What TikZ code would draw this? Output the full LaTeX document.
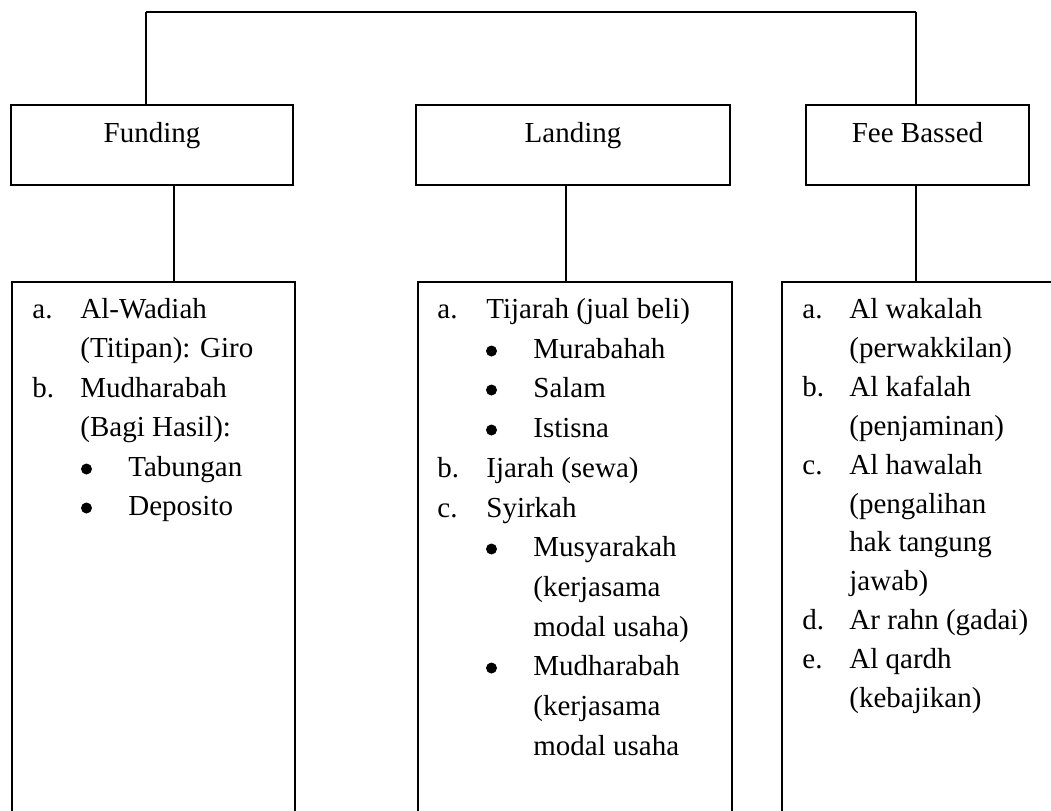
\documentclass[tikz,border=0pt]{standalone}
\usepackage{fontspec}
\setmainfont{Liberation Serif}
\tikzset{head/.style={draw, line width=1pt, inner sep=0pt, text height=18.5pt, text depth=21.5pt, minimum height=40pt},
 listbox/.style={draw, line width=1pt, anchor=north west, inner sep=0pt},
 item/.style={anchor=base west, inner sep=0pt},
 dot/.style={circle, fill, inner sep=0pt, minimum size=5.5pt},
 link/.style={line width=1pt},
 every node/.style={font=\fontsize{14.5pt}{17pt}\selectfont},
 }

\begin{document}
\begin{tikzpicture}[x=0.5pt, y=-0.5pt]
        \clip (0,0) rectangle (1051,810);
        % head boxes
        \node[head, minimum width=141pt] (fund) at (152,145) {Funding};
        \node[head, minimum width=157pt] (land) at (573,145) {Landing};
        \node[head, minimum width=111.5pt] (fee) at (917.5,145) {Fee Bassed};
        \coordinate (tl) at (146,12);
        \coordinate (tr) at (916,12);
        \draw[link] (tl) -- (tr);
        \draw[link] (tl) -- (tl |- fund.north);
        \draw[link] (tr) -- (tr |- fee.north);
        % list boxes
        \node[listbox, minimum width=141.5pt, minimum height=280pt] (fundlist) at (11,281) {};
        \node[listbox, minimum width=157pt, minimum height=280pt] (landlist) at (417,281) {};
        \node[listbox, minimum width=145pt, minimum height=280pt] (feelist) at (781,281) {};
        \coordinate (fd) at (174,0);
        \coordinate (ld) at (566,0);
        \coordinate (ed) at (916,0);
        \draw[link] (fd |- fund.south) -- (fd |- fundlist.north);
        \draw[link] (ld |- land.south) -- (ld |- landlist.north);
        \draw[link] (ed |- fee.south) -- (ed |- feelist.north);
        % funding
        \node[item] (fa) at (32,318) {a.};
        \node[item] (fa1) at (80,318) {Al-Wadiah};
        \node[item] (fa2) at (80,357) {(Titipan): Giro};
        \node[item] (fb) at (32,397) {b.};
        \node[item] (fb1) at (80,397) {Mudharabah};
        \node[item] (fb2) at (80,436) {(Bagi Hasil):};
        \node[dot] (fbd1) at (86.5,469) {};
        \node[item] (fb3) at (128,476) {Tabungan};
        \node[dot] (fbd2) at (86.5,508) {};
        \node[item] (fb4) at (128,515) {Deposito};
        % landing
        \node[item] (la) at (437,318) {a.};
        \node[item] (la1) at (486,318) {Tijarah (jual beli)};
        \node[dot] (lad1) at (491.5,351) {};
        \node[item] (la2) at (533,358) {Murabahah};
        \node[dot] (lad2) at (491.5,390) {};
        \node[item] (la3) at (533,397) {Salam};
        \node[dot] (lad3) at (491.5,430) {};
        \node[item] (la4) at (533,437) {Istisna};
        \node[item] (lb) at (437,477) {b.};
        \node[item] (lb1) at (486,477) {Ijarah (sewa)};
        \node[item] (lc) at (437,517) {c.};
        \node[item] (lc1) at (486,517) {Syirkah};
        \node[dot] (lcd1) at (491.5,549) {};
        \node[item] (lc2) at (533,556) {Musyarakah};
        \node[item] (lc3) at (533,596) {(kerjasama};
        \node[item] (lc4) at (533,636) {modal usaha)};
        \node[dot] (lcd2) at (491.5,668) {};
        \node[item] (lc5) at (533,675) {Mudharabah};
        \node[item] (lc6) at (533,715) {(kerjasama};
        \node[item] (lc7) at (533,755) {modal usaha};
        % fee bassed
        \node[item] (ea) at (802,318) {a.};
        \node[item] (ea1) at (849,318) {Al wakalah};
        \node[item] (ea2) at (849,357) {(perwakkilan)};
        \node[item] (eb) at (802,396) {b.};
        \node[item] (eb1) at (849,396) {Al kafalah};
        \node[item] (eb2) at (849,435) {(penjaminan)};
        \node[item] (ec) at (802,474) {c.};
        \node[item] (ec1) at (849,474) {Al hawalah};
        \node[item] (ec2) at (849,513) {(pengalihan};
        \node[item] (ec3) at (849,551) {hak tangung};
        \node[item] (ec4) at (849,590) {jawab)};
        \node[item] (ed) at (802,629) {d.};
        \node[item] (ed1) at (849,629) {Ar rahn (gadai)};
        \node[item] (ee) at (802,668) {e.};
        \node[item] (ee1) at (849,668) {Al qardh};
        \node[item] (ee2) at (849,707) {(kebajikan)};
    \end{tikzpicture}
\end{document}
